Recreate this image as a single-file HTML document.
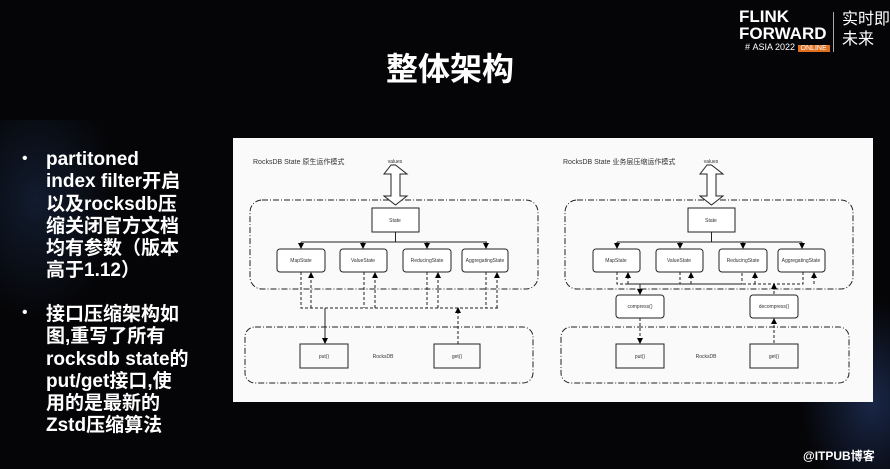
<!DOCTYPE html>
<html><head><meta charset="utf-8"><style>
body{margin:0;width:890px;height:469px;background:#050507;overflow:hidden;position:relative;font-family:"Liberation Sans","Noto Sans CJK SC",sans-serif;}
.t{position:absolute;color:#fff;font-weight:bold;}
.ul{position:absolute;left:46px;color:#fff;font-weight:bold;font-size:19px;line-height:22.3px;}
.b{position:absolute;left:22px;color:#fff;font-size:16px;}
</style></head><body>
<div style="position:absolute;left:0;top:120px;width:120px;height:200px;background:radial-gradient(ellipse at 30% 40%,rgba(40,70,120,0.35),rgba(0,0,0,0) 70%);"></div>
<div style="position:absolute;left:800px;top:300px;width:90px;height:169px;background:radial-gradient(ellipse at 80% 60%,rgba(50,80,150,0.45),rgba(0,0,0,0) 70%);"></div>
<div class="t" style="left:0;width:900px;text-align:center;top:44px;font-size:32px;">整体架构</div>
<div class="t" style="left:739px;top:8px;font-size:17px;line-height:17px;">FLINK<br>FORWARD</div>
<div class="t" style="left:745px;top:42px;font-size:9px;font-weight:normal;">#&nbsp;ASIA 2022 <span style="background:#e07020;color:#fff;padding:0 3px;font-size:7px;">ONLINE</span></div>
<div style="position:absolute;left:833px;top:12px;width:1px;height:40px;background:#aaa;"></div>
<div class="t" style="left:842px;top:10px;font-size:16px;line-height:20px;font-weight:normal;">实时即<br>未来</div>
<div class="b" style="top:150px;">•</div>
<div class="ul" style="top:149px;">partitoned<br>index filter开启<br>以及rocksdb压<br>缩关闭官方文档<br>均有参数（版本<br>高于1.12）</div>
<div class="b" style="top:304px;">•</div>
<div class="ul" style="top:304px;">接口压缩架构如<br>图,重写了所有<br>rocksdb state的<br>put/get接口,使<br>用的是最新的<br>Zstd压缩算法</div>
<div class="t" style="left:803px;top:447px;font-size:12px;">@ITPUB博客</div>
<svg width="890" height="469" style="position:absolute;left:0;top:0" font-family="Liberation Sans,Noto Sans CJK SC,sans-serif">
<defs><marker id="a" markerWidth="6" markerHeight="6" refX="5" refY="3" orient="auto"><path d="M0,0L6,3L0,6z" fill="#000"/></marker></defs>
<rect x="233" y="138" width="640" height="264" fill="#fafafa"/>
<g fill="none" stroke="#222" stroke-width="1">
<!-- left -->
<rect x="250" y="200" width="288" height="89" rx="12" stroke-dasharray="6,2,1,2"/>
<rect x="245" y="327" width="288" height="56" rx="10" stroke-dasharray="6,2,1,2"/>
<path d="M391,165L384,174H391V196H384L395.5,205L407,196H400V174H407L395.5,165Z" fill="#fff"/>
<rect x="372" y="208" width="47" height="24" fill="#fff"/>
<path d="M395.5,232V242M301,242H487"/>
<g marker-end="url(#a)"><path d="M301,242V248"/><path d="M363,242V248"/><path d="M427,242V248"/><path d="M486,242V248"/></g>
<rect x="277" y="249" width="48" height="23" rx="3" fill="#fff"/>
<rect x="340" y="249" width="47" height="23" rx="3" fill="#fff"/>
<rect x="403" y="249" width="48" height="23" rx="3" fill="#fff"/>
<rect x="462" y="249" width="46" height="23" rx="3" fill="#fff"/>
<g stroke-dasharray="3,2"><path d="M301,272V308H500M364,272V308M427,272V308M486,272V308"/>
<g marker-end="url(#a)"><path d="M311,308V273"/><path d="M375,308V273"/><path d="M438,308V273"/><path d="M497,308V273"/><path d="M458,344V308"/></g></g>
<path d="M325,308V343" marker-end="url(#a)"/>
<rect x="300" y="344" width="48" height="24"/>
<rect x="434" y="344" width="46" height="24"/>
<!-- right -->
<rect x="565" y="200" width="288" height="89" rx="12" stroke-dasharray="6,2,1,2"/>
<rect x="561" y="327" width="288" height="56" rx="10" stroke-dasharray="6,2,1,2"/>
<path d="M707,165L700,174H707V196H700L711.5,205L723,196H716V174H723L711.5,165Z" fill="#fff"/>
<rect x="688" y="208" width="47" height="24" fill="#fff"/>
<path d="M711.5,232V242M617,242H802"/>
<g marker-end="url(#a)"><path d="M617,242V248"/><path d="M680,242V248"/><path d="M743,242V248"/><path d="M802,242V248"/></g>
<rect x="593" y="249" width="47" height="23" rx="3" fill="#fff"/>
<rect x="656" y="249" width="47" height="23" rx="3" fill="#fff"/>
<rect x="719" y="249" width="48" height="23" rx="3" fill="#fff"/>
<rect x="778" y="249" width="47" height="23" rx="3" fill="#fff"/>
<g stroke-dasharray="3,2"><path d="M617,272V284H742V272M680,272V284M803,272V284H773"/>
<path d="M628,284H774"/>
<g marker-end="url(#a)"><path d="M628,284V273"/><path d="M691,284V273"/><path d="M755,284V273"/><path d="M814,284V273"/><path d="M774,294V284"/><path d="M640,318V343"/><path d="M774,343V319"/></g></g>
<path d="M640,284V294" marker-end="url(#a)"/>
<rect x="616" y="295" width="48" height="23" rx="3" fill="#fff"/>
<rect x="750" y="295" width="48" height="23" rx="3" fill="#fff"/>
<rect x="616" y="344" width="48" height="24"/>
<rect x="750" y="344" width="48" height="24"/>
</g>
<g font-size="5" fill="#333" text-anchor="middle">
<text x="395" y="163">values</text><text x="395" y="222">State</text>
<text x="301" y="262">MapState</text><text x="363" y="262">ValueState</text><text x="427" y="262">ReducingState</text><text x="485" y="262">AggregatingState</text>
<text x="324" y="358">put()</text><text x="383" y="358">RocksDB</text><text x="457" y="358">get()</text>
<text x="711" y="163">values</text><text x="711" y="222">State</text>
<text x="616" y="262">MapState</text><text x="679" y="262">ValueState</text><text x="743" y="262">ReducingState</text><text x="801" y="262">AggregatingState</text>
<text x="640" y="308">compress()</text><text x="774" y="308">decompress()</text>
<text x="640" y="358">put()</text><text x="706" y="358">RocksDB</text><text x="774" y="358">get()</text>
</g>
<text x="253" y="164" font-size="7" fill="#333">RocksDB State 原生运作模式</text>
<text x="563" y="164" font-size="7" fill="#333">RocksDB State 业务层压缩运作模式</text>
</svg>
</body></html>
